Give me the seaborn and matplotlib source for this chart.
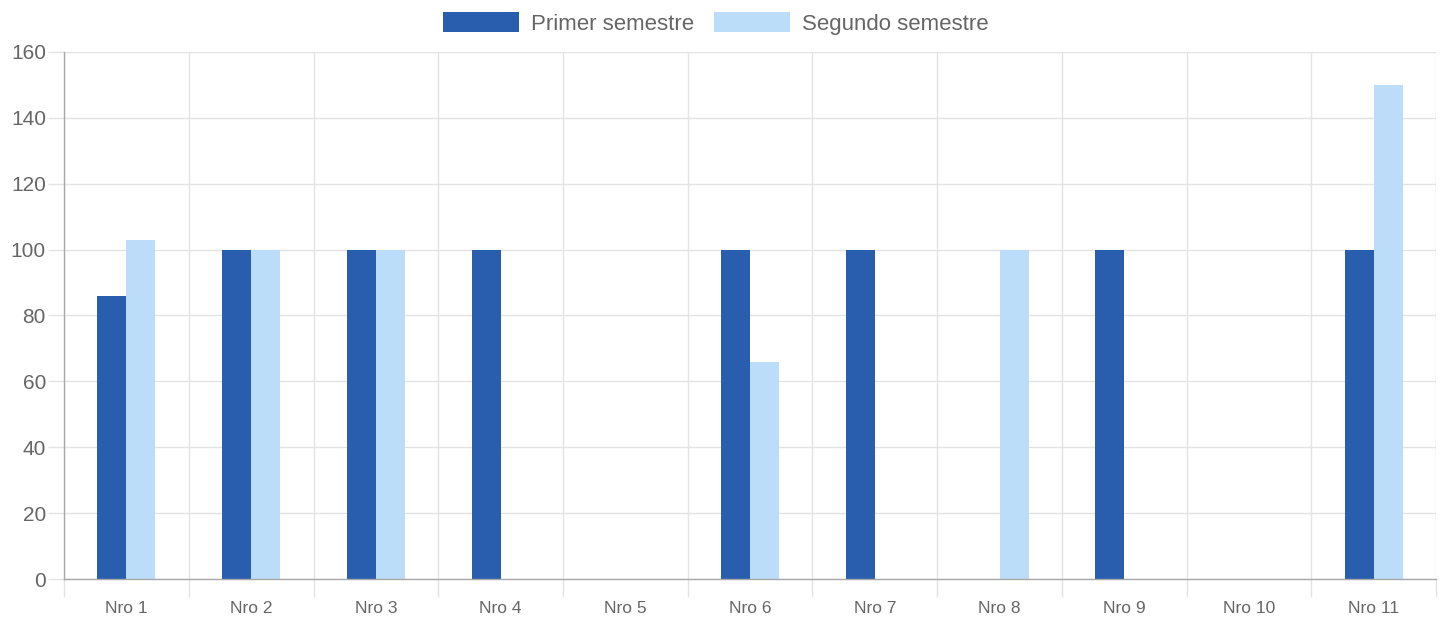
import pandas as pd
import matplotlib.pyplot as plt
import seaborn as sns

# Chart values
categorias = ['Nro 1', 'Nro 2', 'Nro 3', 'Nro 4', 'Nro 5', 'Nro 6',
              'Nro 7', 'Nro 8', 'Nro 9', 'Nro 10', 'Nro 11']
primer_semestre = [86, 100, 100, 100, 0, 100, 100, 0, 100, 0, 100]
segundo_semestre = [103, 100, 100, 0, 0, 66, 0, 100, 0, 0, 150]
series = ['Primer semestre', 'Segundo semestre']
colores = ['#285EAD', '#BBDDFA']
y_ticks = [0, 20, 40, 60, 80, 100, 120, 140, 160]

df = pd.DataFrame({
    'Categoria': categorias * 2,
    'Valor': primer_semestre + segundo_semestre,
    'Serie': [series[0]] * len(categorias) + [series[1]] * len(categorias),
})

sns.set_style('white')
plt.rcParams['font.family'] = ['Liberation Sans', 'DejaVu Sans']

fig = plt.figure(figsize=(14.49, 6.21), dpi=100)
ax = fig.add_axes([0.0442, 0.0676, 0.9469, 0.8487])

sns.barplot(data=df, x='Categoria', y='Valor', hue='Serie', palette=colores,
            width=0.465, linewidth=0, saturation=1, ax=ax, legend=False)

grid_color = '#E3E3E3'
text_color = '#666666'

ax.set_xlim(-0.5, len(categorias) - 0.5)
ax.set_ylim(0, 160)
ax.set_xlabel('')
ax.set_ylabel('')

# category boundaries carry the vertical grid lines, labels sit at the centres
ax.set_xticks([i - 0.5 for i in range(len(categorias) + 1)])
ax.set_xticklabels([])
ax.set_xticks(range(len(categorias)), minor=True)
ax.set_xticklabels(categorias, minor=True)
ax.tick_params(axis='x', which='major', bottom=True, length=13,
               color=grid_color, width=1)
ax.tick_params(axis='x', which='minor', bottom=True, length=0, pad=16,
               labelsize=12.5, labelcolor=text_color)

ax.set_yticks(y_ticks)
ax.tick_params(axis='y', left=True, length=11.5, color=grid_color, width=1,
               pad=1.5, labelsize=15, labelcolor=text_color)

ax.grid(True, which='major', color=grid_color, linewidth=1)
ax.set_axisbelow(True)

for side in ['top', 'right']:
    ax.spines[side].set_visible(False)
for side in ['left', 'bottom']:
    ax.spines[side].set_color('#A8A8A8')
    ax.spines[side].set_linewidth(1)

handles = [plt.Rectangle((0, 0), 1, 1, facecolor=c, edgecolor='none') for c in colores]
fig.legend(handles, series, loc='upper center', bbox_to_anchor=(0.494, 1.006),
           ncol=2, frameon=False, fontsize=16, labelcolor=text_color,
           handlelength=3.4, handleheight=1.05, handletextpad=0.55,
           columnspacing=0.9, borderaxespad=0.3)

plt.savefig('out.png', dpi=100)
plt.close()
